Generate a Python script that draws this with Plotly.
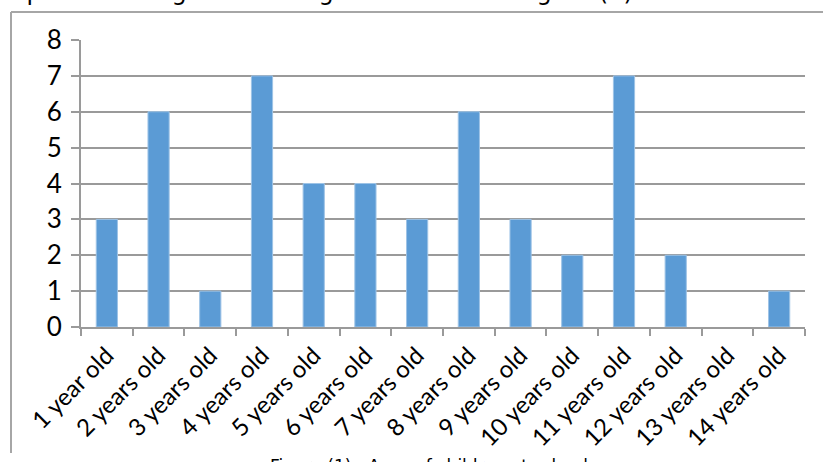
# Ages of children bar chart (Excel style, inside a document frame)
import plotly.graph_objects as go

ages = ['1 year old', '2 years old', '3 years old', '4 years old', '5 years old',
        '6 years old', '7 years old', '8 years old', '9 years old', '10 years old',
        '11 years old', '12 years old', '13 years old', '14 years old']
counts = [3, 6, 1, 7, 4, 4, 3, 6, 3, 2, 7, 2, 0, 1]
y_ticks = [0, 1, 2, 3, 4, 5, 6, 7, 8]

top_text = 'spread among different ages as shown in Figure (1).'
caption = 'Figure (1) - Ages of children at school'

grey = '#9a9a9a'

fig = go.Figure()
fig.add_trace(go.Bar(
    x=ages,
    y=counts,
    marker=dict(color='#5B9BD5',
                line=dict(color='#9DC3E6', width=[1 if c else 0 for c in counts])),
    hoverinfo='x+y',
))

fig.update_layout(
    width=823, height=462,
    margin=dict(l=81, r=18, t=40, b=135),
    paper_bgcolor='white',
    plot_bgcolor='white',
    bargap=0.59,
    showlegend=False,
    font=dict(family='Lato, Open Sans, sans-serif', color='black'),
)

fig.update_xaxes(
    type='category',
    automargin=False,
    tickson='boundaries',
    ticks='outside', ticklen=7, tickcolor=grey, tickwidth=2,
    showline=True, linecolor=grey, linewidth=2,
    showgrid=False,
    tickangle=-45,
    ticklabelstandoff=3,
    tickfont=dict(size=24, family='Lato, sans-serif'),
)
fig.update_yaxes(
    automargin=False,
    range=[0, 8],
    tickvals=y_ticks,
    ticks='outside', ticklen=8, tickcolor=grey, tickwidth=2,
    showline=True, linecolor=grey, linewidth=2,
    showgrid=True, gridcolor=grey, gridwidth=2,
    zeroline=False,
    ticklabelstandoff=4,
    tickfont=dict(size=26, family='Lato, sans-serif'),
)

# document frame around the figure
fig.add_shape(type='line', xref='paper', yref='paper',
              x0=(11 - 81) / 724, x1=(11 - 81) / 724,
              y0=(327 - 12) / 287, y1=(327 - 453) / 287,
              line=dict(color='#a6a6a6', width=2))
fig.add_shape(type='line', xref='paper', yref='paper',
              x0=(11 - 81) / 724, x1=(823 - 81) / 724,
              y0=(327 - 12) / 287, y1=(327 - 12) / 287,
              line=dict(color='#a6a6a6', width=2))

# surrounding document text, cut by the screenshot edges
fig.add_annotation(text=top_text, xref='paper', yref='paper',
                   x=(12 - 81) / 724, y=(327 - 8) / 287,
                   xanchor='left', yanchor='bottom', showarrow=False,
                   font=dict(size=24, family='DejaVu Sans, sans-serif', color='black'))
fig.add_annotation(text=caption, xref='paper', yref='paper',
                   x=(268 - 81) / 724, y=(327 - 454) / 287,
                   xanchor='left', yanchor='top', showarrow=False,
                   font=dict(size=17, family='DejaVu Sans, sans-serif', color='black'))

fig.write_html('out.html', config={'displayModeBar': False},
               post_script="document.body.style.margin='0';")
